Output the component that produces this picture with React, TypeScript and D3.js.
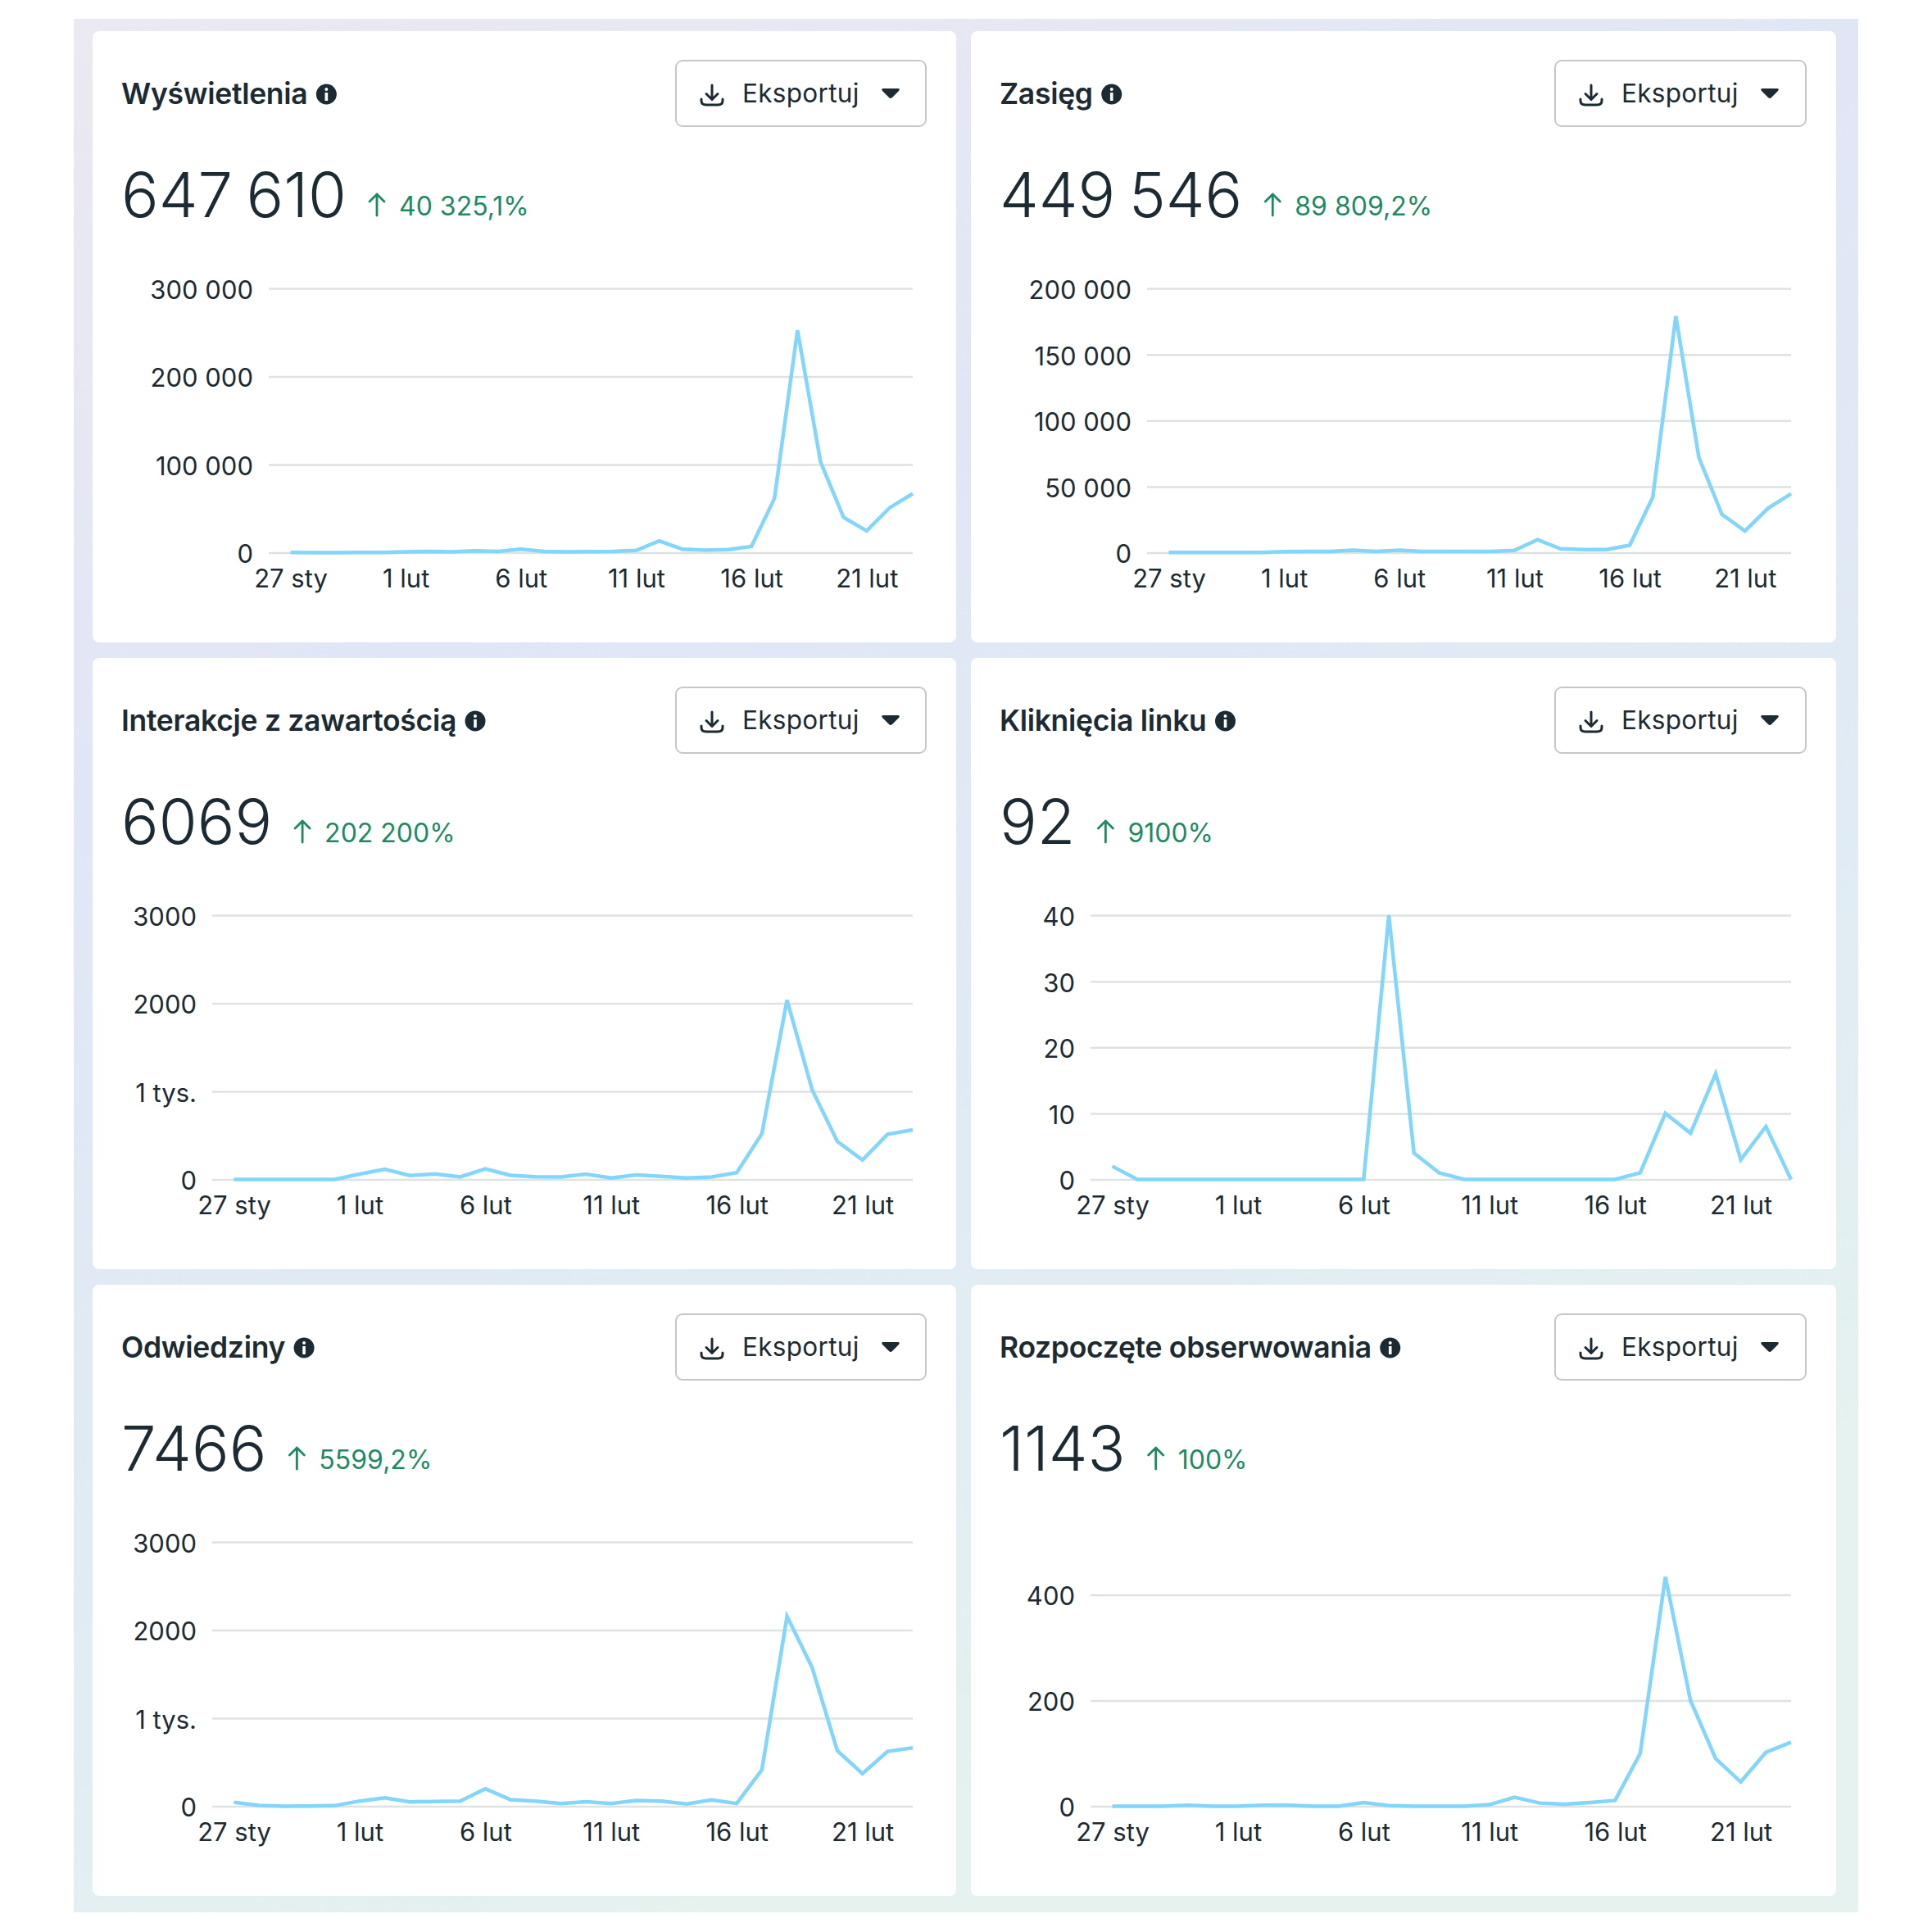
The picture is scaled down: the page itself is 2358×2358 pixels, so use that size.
import { useEffect, useRef } from "react";
import * as d3 from "d3";

const days = [
  "27 sty", "28 sty", "29 sty", "30 sty", "31 sty", "1 lut", "2 lut", "3 lut", "4 lut", "5 lut",
  "6 lut", "7 lut", "8 lut", "9 lut", "10 lut", "11 lut", "12 lut", "13 lut", "14 lut", "15 lut",
  "16 lut", "17 lut", "18 lut", "19 lut", "20 lut", "21 lut", "22 lut", "23 lut",
];
const xTicks = ["27 sty", "1 lut", "6 lut", "11 lut", "16 lut", "21 lut"];

const views = [300, 100, 100, 200, 300, 1000, 1500, 1000, 2000, 1500, 4000, 1500, 1000, 1200, 1500, 2500, 13300, 4000, 2800, 3400, 7000, 61500, 252500, 103000, 40000, 24800, 51000, 67000];
const reach = [100, 100, 100, 100, 200, 800, 1000, 1000, 1800, 1000, 1800, 1000, 900, 900, 1000, 1700, 9800, 2900, 2300, 2300, 5600, 42000, 179000, 72000, 29000, 16400, 33600, 44600];
const interactions = [0, 0, 0, 0, 0, 60, 115, 45, 62, 28, 120, 47, 31, 28, 60, 16, 50, 34, 16, 28, 78, 520, 2037, 1017, 432, 220, 513, 563];
const clicks = [2, 0, 0, 0, 0, 0, 0, 0, 0, 0, 0, 40, 4, 1, 0, 0, 0, 0, 0, 0, 0, 1, 10, 7, 16, 3, 8, 0];
const visits = [44, 9, 0, 3, 6, 59, 96, 50, 53, 59, 199, 75, 59, 31, 50, 31, 65, 59, 25, 72, 31, 414, 2155, 1574, 631, 370, 622, 662];
const follows = [0, 0, 0, 2, 0, 0, 2, 2, 0, 0, 7, 1, 0, 0, 0, 3, 17, 6, 4, 7, 11, 100, 434, 200, 90, 46, 102, 121];

const titles = ["Wyświetlenia", "Zasięg", "Interakcje z zawartością", "Kliknięcia linku", "Odwiedziny", "Rozpoczęte obserwowania"];
const totals = ["647 610", "449 546", "6069", "92", "7466", "1143"];
const deltas = ["40 325,1%", "89 809,2%", "202 200%", "9100%", "5599,2%", "100%"];
const series = [views, reach, interactions, clicks, visits, follows];
const yMax = [300000, 200000, 3000, 40, 3000, 500];
const yTicks = [
  [0, 100000, 200000, 300000],
  [0, 50000, 100000, 150000, 200000],
  [0, 1000, 2000, 3000],
  [0, 10, 20, 30, 40],
  [0, 1000, 2000, 3000],
  [0, 200, 400],
];
const gutters = [215, 215, 146, 146, 146, 146];

const FONT = "Inter, 'Noto Sans', sans-serif";
const INK = "#1c2b33";
const GREEN = "#1f8a62";
const LINE = "#82d5fb";
const GRID = "#dfe1e3";

const cardX = [113, 1185];
const cardY = [38, 803, 1568];
const cardW = [1054, 1056];
const cardH = 746;
const buttonX = [712, 713];
const buttonW = [305, 306];

function tickLabel(v: number): string {
  if (v === 1000) return "1 tys.";
  if (v >= 10000) return d3.format(",")(v).replace(",", " ");
  return String(v);
}

function drawCard(svg: any, i: number) {
  const col = i % 2;
  const x0 = cardX[col];
  const y0 = cardY[Math.floor(i / 2)];
  const g = svg.append("g").attr("transform", `translate(${x0},${y0})`);

  g.append("rect").attr("width", cardW[col]).attr("height", cardH).attr("rx", 8).attr("fill", "#fff");

  // title + info dot
  const title = g
    .append("text")
    .attr("x", 35)
    .attr("y", 89)
    .attr("font-size", 35.5)
    .attr("font-weight", 600)
    .attr("letter-spacing", -0.3)
    .attr("fill", INK)
    .text(titles[i]);
  const tw = title.node().getComputedTextLength();
  const info = g.append("g").attr("transform", `translate(${35 + tw + 23},${77})`);
  info.append("circle").attr("r", 12.5).attr("fill", INK);
  info.append("circle").attr("cy", -6).attr("r", 2).attr("fill", "#fff");
  info.append("rect").attr("x", -1.8).attr("y", -2).attr("width", 3.6).attr("height", 10).attr("fill", "#fff");

  // export button
  const btn = g.append("g").attr("transform", `translate(${buttonX[col]},36)`);
  btn.append("rect").attr("width", buttonW[col]).attr("height", 80).attr("rx", 8).attr("fill", "#fff").attr("stroke", "#c5c8ca").attr("stroke-width", 2);
  btn
    .append("path")
    .attr("d", "M44 30V47M37 40.5L44 47.5L51 40.5M31 47V49Q31 54 37 54H51Q57 54 57 49V47")
    .attr("fill", "none")
    .attr("stroke", INK)
    .attr("stroke-width", 3)
    .attr("stroke-linecap", "round")
    .attr("stroke-linejoin", "round");
  btn.append("text").attr("x", 81).attr("y", 51).attr("font-size", 31.5).attr("fill", INK).attr("letter-spacing", 0.3).text("Eksportuj");
  btn.append("path").attr("d", "M253 34H271Q274 34 272 37L264 45Q262 47 260 45L252 37Q250 34 253 34Z").attr("fill", INK);

  // big number and change
  const total = g
    .append("text")
    .attr("x", 35)
    .attr("y", 227)
    .attr("font-size", 76)
    .attr("font-weight", 300)
    .attr("word-spacing", -5)
    .attr("fill", INK)
    .text(totals[i]);
  const nw = total.node().getComputedTextLength();
  const ax = 35 + nw + 37;
  g.append("path")
    .attr("d", `M${ax} 225V199M${ax - 9} 208L${ax} 199L${ax + 9} 208`)
    .attr("fill", "none")
    .attr("stroke", GREEN)
    .attr("stroke-width", 2.8)
    .attr("stroke-linecap", "round")
    .attr("stroke-linejoin", "round");
  g.append("text")
    .attr("x", ax + 27)
    .attr("y", 225)
    .attr("font-size", 32)
    .attr("fill", GREEN)
    .text(deltas[i]);

  // chart
  const left = gutters[i];
  const right = 1001;
  const top = 314;
  const bottom = 636.5;
  const x = d3.scalePoint().domain(days).range([left + 26.5, right]);
  const y = d3.scaleLinear().domain([0, yMax[i]]).range([bottom, top]);

  const yAxis = g
    .append("g")
    .attr("transform", `translate(${left},0)`)
    .call(
      d3
        .axisLeft(y)
        .tickValues(yTicks[i])
        .tickSize(-(right - left))
        .tickPadding(19)
        .tickFormat((d: any) => tickLabel(d)),
    );
  yAxis.select(".domain").remove();
  yAxis.selectAll("line").attr("stroke", GRID).attr("stroke-width", 2.5);
  yAxis.selectAll("text").attr("font-size", 31).attr("font-family", FONT).attr("fill", INK).attr("dy", "0.4em");

  const xAxis = g
    .append("g")
    .attr("transform", `translate(0,${bottom})`)
    .call(d3.axisBottom(x).tickValues(xTicks).tickSize(0).tickPadding(20));
  xAxis.select(".domain").remove();
  xAxis.selectAll("text").attr("font-size", 31).attr("font-family", FONT).attr("fill", INK).attr("dy", "0.72em");

  const line = d3
    .line<number>()
    .x((_, k) => x(days[k]) as number)
    .y((d) => y(d));
  g.append("path")
    .attr("d", line(series[i]))
    .attr("fill", "none")
    .attr("stroke", LINE)
    .attr("stroke-width", 4.5)
    .attr("stroke-linejoin", "miter");
}

export default function App() {
  const ref = useRef<SVGSVGElement>(null);

  useEffect(() => {
    const svg = d3.select(ref.current);
    svg.selectAll("*").remove();

    const defs = svg.append("defs");
    const bg = defs
      .append("linearGradient")
      .attr("id", "bg")
      .attr("x1", 0)
      .attr("y1", 0)
      .attr("x2", 0.4)
      .attr("y2", 1);
    bg.append("stop").attr("offset", 0).attr("stop-color", "#ebe9f1");
    bg.append("stop").attr("offset", 0.35).attr("stop-color", "#e1e6f6");
    bg.append("stop").attr("offset", 0.7).attr("stop-color", "#e0ebf4");
    bg.append("stop").attr("offset", 1).attr("stop-color", "#e5f2ef");

    svg.append("rect").attr("x", 90).attr("y", 23).attr("width", 2178).attr("height", 2311).attr("fill", "url(#bg)");

    series.forEach((_, i) => drawCard(svg, i));
  }, []);

  return (
    <svg
      ref={ref}
      width={2358}
      height={2358}
      viewBox="0 0 2358 2358"
      style={{ position: "absolute", left: 0, top: 0, background: "#fff" }}
      fontFamily={FONT}
    />
  );
}
